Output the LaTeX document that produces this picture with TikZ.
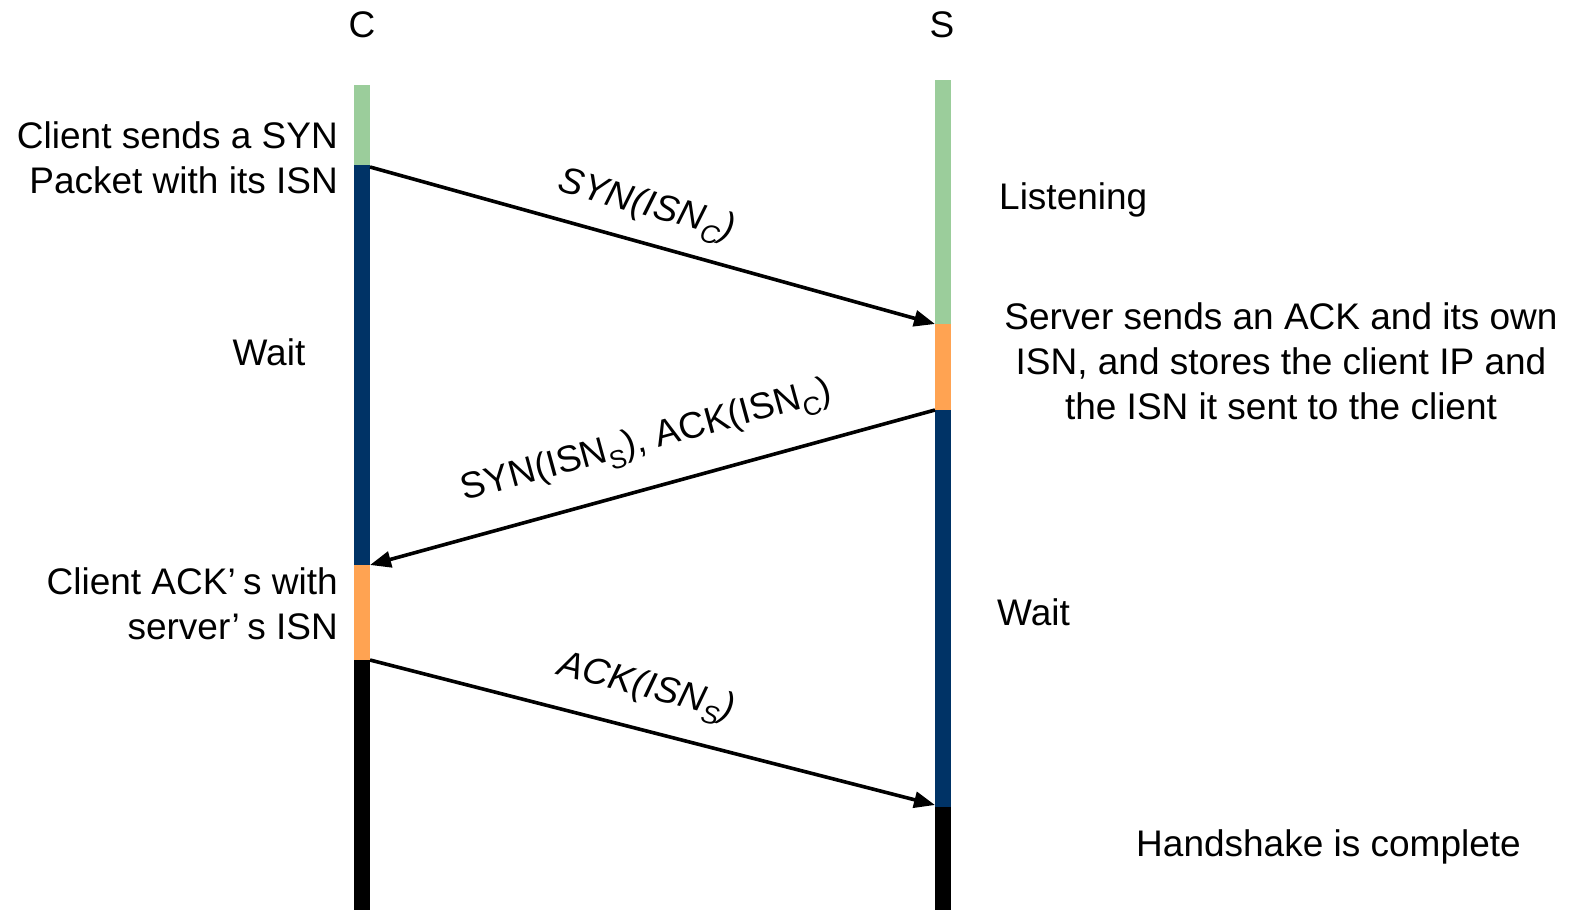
\documentclass[tikz,border=0pt]{standalone}
\usepackage{fontspec}
\setmainfont{Liberation Sans}
\usetikzlibrary{arrows.meta}
\definecolor{listen}{RGB}{155,205,155}
\definecolor{waitblue}{RGB}{0,51,102}
\definecolor{sendorange}{RGB}{255,163,82}
\tikzset{
  txt/.style={inner sep=0pt, font=\fontsize{37}{45}\selectfont},
  msg/.style={line width=3.6pt, -{Triangle[length=21pt,width=16pt]}},
  msglabel/.style={inner sep=0pt, font=\fontsize{37}{45}\selectfont}
}
\begin{document}
\begin{tikzpicture}[x=1pt,y=-1pt]
\useasboundingbox (0,0) rectangle (1574,910);
% lifeline headers
\node[txt] (C) at (362,25) {C};
\node[txt] (S) at (942,25) {S};
% client lifeline segments
\fill[listen]     (354,85)  rectangle (370,167);
\fill[waitblue]   (354,165) rectangle (370,565);
\fill[sendorange] (354,565) rectangle (370,660);
\fill[black]      (354,660) rectangle (370,910);
% server lifeline segments
\fill[listen]     (935,80)  rectangle (951,324);
\fill[sendorange] (935,324) rectangle (951,410);
\fill[waitblue]   (935,410) rectangle (951,807);
\fill[black]      (935,807) rectangle (951,910);
% message end points
\coordinate (c1) at (370,167);
\coordinate (s1) at (935,324);
\coordinate (s2) at (935,410);
\coordinate (c2) at (370,565);
\coordinate (c3) at (370,660);
\coordinate (s3) at (935,805);
% messages
\draw[msg] (c1) -- (s1);
\draw[msg] (s2) -- (c2);
\draw[msg] (c3) -- (s3);
\node[msglabel, rotate=-15.5] (m1) at (646,207) {\textit{SYN(ISN\textsubscript{C})}};
\node[msglabel, rotate=15.3] (m2) at (647,442) {SYN(ISN\textsubscript{S}), ACK(ISN\textsubscript{C})};
\node[msglabel, rotate=-14.4] (m3) at (646,689) {\textit{ACK(ISN\textsubscript{S})}};
% client states
\node[txt, anchor=east, align=right] (cs1) at (338,158) {Client sends a SYN\\Packet with its ISN};
\node[txt] (cw) at (269,352) {Wait};
\node[txt, anchor=east, align=right] (cs2) at (338,604) {Client ACK’\hspace{0.2em}s with\\server’\hspace{0.2em}s ISN};
% server states
\node[txt, anchor=west] (sl) at (999,200) {Listening};
\node[txt, align=center] (ss) at (1281,361) {Server sends an ACK and its own\\ISN, and stores the client IP and\\the ISN it sent to the client};
\node[txt, anchor=west] (sw) at (997,612) {Wait};
\node[txt, anchor=west] (sh) at (1136,847) {Handshake is complete};
\end{tikzpicture}
\end{document}
